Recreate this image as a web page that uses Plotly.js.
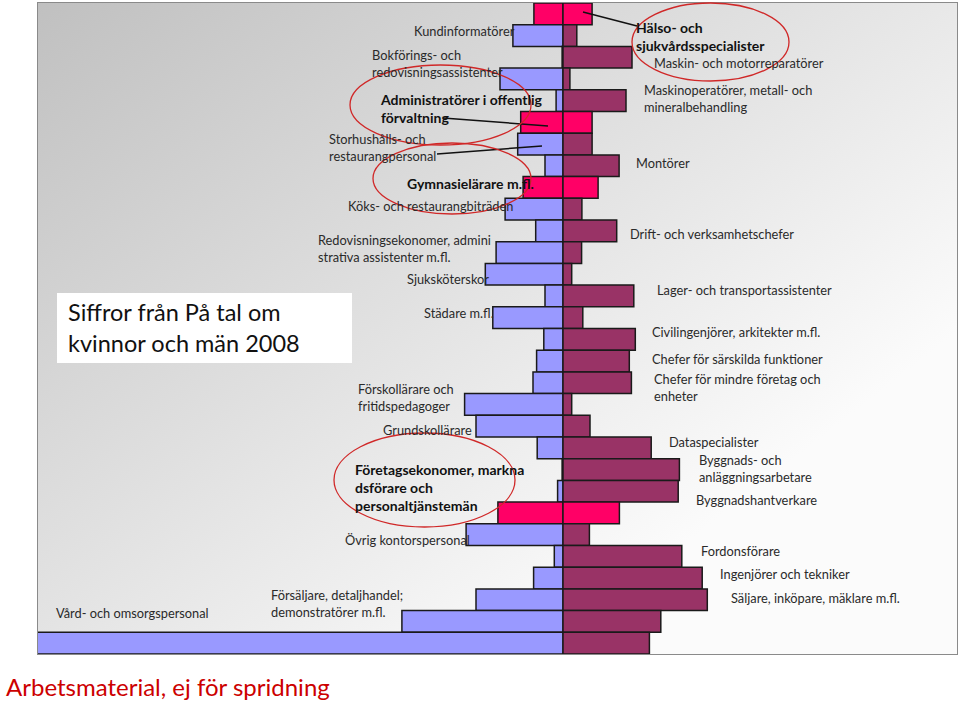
<!DOCTYPE html>
<html>
<head>
<meta charset="utf-8">
<script src="https://cdn.plot.ly/plotly-3.0.1.min.js"></script>
<style>
  html, body { margin: 0; padding: 0; background: #ffffff; }
  #chart { width: 960px; height: 701px; }
</style>
</head>
<body>
<div id="chart"></div>
<script>
// ---- DATA (rows listed top to bottom, values in thousands, estimated) ----
const occupations = [
  "Hälso- och<br>sjukvårdsspecialister",
  "Kundinformatörer",
  "Maskin- och motorreparatörer",
  "Bokförings- och<br>redovisningsassistenter",
  "Maskinoperatörer, metall- och<br>mineralbehandling",
  "Administratörer i offentlig<br>förvaltning",
  "Storhushålls- och<br>restaurangpersonal",
  "Montörer",
  "Gymnasielärare m.fl.",
  "Köks- och restaurangbiträden",
  "Drift- och verksamhetschefer",
  "Redovisningsekonomer, admini<br>strativa assistenter m.fl.",
  "Sjuksköterskor",
  "Lager- och transportassistenter",
  "Städare m.fl.",
  "Civilingenjörer, arkitekter m.fl.",
  "Chefer för särskilda funktioner",
  "Chefer för mindre företag och<br>enheter",
  "Förskollärare och<br>fritidspedagoger",
  "Grundskollärare",
  "Dataspecialister",
  "Byggnads- och<br>anläggningsarbetare",
  "Byggnadshantverkare",
  "Företagsekonomer, markna<br>dsförare och<br>personaltjänstemän",
  "Övrig kontorspersonal",
  "Fordonsförare",
  "Ingenjörer och tekniker",
  "Säljare, inköpare, mäklare m.fl.",
  "Försäljare, detaljhandel;<br>demonstratörer m.fl.",
  "Vård- och omsorgspersonal"
];
const women = [9.7, 16.7, 0.3, 21.0, 2.3, 14.1, 15.1, 6.0, 13.3, 19.3,
               9.1, 22.3, 25.9, 6.0, 23.4, 6.4, 8.8, 10.0, 32.8, 29.0,
               8.6, 0.3, 1.8, 21.7, 32.3, 2.9, 9.8, 29.0, 53.7, 180.0];
const men   = [9.7, 4.6, 23.0, 2.3, 21.0, 9.7, 9.7, 18.7, 11.7, 6.3,
               17.9, 6.2, 2.9, 23.6, 6.6, 24.1, 22.1, 22.8, 2.9, 9.0,
               29.4, 38.8, 38.4, 18.8, 8.8, 39.6, 46.4, 48.1, 32.6, 28.8];
const highlighted = [true, false, false, false, false, true, false, false, true, false,
                     false, false, false, false, false, false, false, false, false, false,
                     false, false, false, true, false, false, false, false, false, false];
const boxText = "Siffror från På tal om<br>kvinnor och män 2008";
const footerText = "Arbetsmaterial, ej för spridning";

// ---- STYLE ----
const WOMEN_COLOR = "#9999ff", MEN_COLOR = "#993366", HL_COLOR = "#ff0066";
const FONT = "Lato, 'Open Sans', sans-serif";
const TXT = "#2a2a2a";

// plot area in pixels
const L = 38, T = 3, W = 919, H = 651;
const px = v => (v - L) / W;
const py = v => 1 - (v - T) / H;

// background gradient image
const cv = document.createElement("canvas");
cv.width = W; cv.height = H;
const ctx = cv.getContext("2d");
const g = ctx.createLinearGradient(0, 0, W * 0.55, H);
g.addColorStop(0, "#c0c0c0");
g.addColorStop(1, "#fbfbfb");
ctx.fillStyle = g; ctx.fillRect(0, 0, W, H);
const bgURL = cv.toDataURL("image/png");

const traces = [
  {
    type: "bar", orientation: "h", name: "Kvinnor",
    y: occupations, x: women.map(v => -v),
    marker: { color: highlighted.map(h => h ? HL_COLOR : WOMEN_COLOR),
              line: { color: "#1a1a1a", width: 1.5 } },
    hoverinfo: "skip"
  },
  {
    type: "bar", orientation: "h", name: "Män",
    y: occupations, x: men,
    marker: { color: highlighted.map(h => h ? HL_COLOR : MEN_COLOR),
              line: { color: "#1a1a1a", width: 1.5 } },
    hoverinfo: "skip"
  }
];

// label placements: [row index, pixel x, pixel y, anchor]
const labelPos = [
  [0, 634, 36, "left"],
  [1, 517, 31, "right"],
  [2, 652, 63.5, "left"],
  [3, 370, 63, "left"],
  [4, 642, 98, "left"],
  [5, 378, 108.5, "left"],
  [6, 327, 148, "left"],
  [7, 634, 163, "left"],
  [8, 405, 183, "left"],
  [9, 346, 206, "left"],
  [10, 628, 234, "left"],
  [11, 316, 249, "left"],
  [12, 405, 279, "left"],
  [13, 655, 290, "left"],
  [14, 422, 313, "left"],
  [15, 650, 332, "left"],
  [16, 650, 359, "left"],
  [17, 652, 387, "left"],
  [18, 356, 397, "left"],
  [19, 381, 430, "left"],
  [20, 667, 442, "left"],
  [21, 697, 468, "left"],
  [22, 694, 500, "left"],
  [23, 353, 487, "left"],
  [24, 343, 540, "left"],
  [25, 699, 551, "left"],
  [26, 718, 574, "left"],
  [27, 729, 598, "left"],
  [28, 269, 603, "left"],
  [29, 54, 613, "left"]
];

const annotations = labelPos.map(([i, x, y, a]) => ({
  xref: "paper", yref: "paper", x: px(x), y: py(y),
  xanchor: a, yanchor: "middle", align: "left", showarrow: false,
  text: occupations[i],
  font: highlighted[i]
    ? { family: FONT, size: 14, color: "#111111", weight: 700 }
    : { family: FONT, size: 12.8, color: TXT }
}));

annotations.push({
  xref: "paper", yref: "paper", x: px(66), y: py(327.5),
  xanchor: "left", yanchor: "middle", align: "left", showarrow: false,
  text: boxText, font: { family: FONT, size: 23.5, color: "#111111" }
});
annotations.push({
  xref: "paper", yref: "paper", x: px(4), y: py(686),
  xanchor: "left", yanchor: "middle", showarrow: false,
  text: footerText, font: { family: FONT, size: 24, color: "#cc0000" }
});

const ell = (x0, x1, y0, y1) => ({
  type: "circle", xref: "paper", yref: "paper", layer: "above",
  x0: px(x0), x1: px(x1), y0: py(y1), y1: py(y0),
  line: { color: "#d02828", width: 1.3 }
});
const seg = (x0, y0, x1, y1) => ({
  type: "line", xref: "paper", yref: "paper", layer: "above",
  x0: px(x0), y0: py(y0), x1: px(x1), y1: py(y1),
  line: { color: "#111111", width: 1.5 }
});

const shapes = [
  { type: "rect", xref: "paper", yref: "paper", layer: "above",
    x0: px(57), x1: px(352), y0: py(363), y1: py(293),
    fillcolor: "#ffffff", line: { width: 0 } },
  seg(583, 12, 637, 26),
  seg(443, 118, 548, 126),
  seg(437, 154, 542, 146),
  ell(632, 789, 3, 81),
  ell(350, 531, 65, 145),
  ell(373, 531, 143, 214),
  ell(334, 515, 433, 527)
];

const layout = {
  width: 960, height: 701,
  margin: { l: L, r: 960 - L - W, t: T, b: 701 - T - H, pad: 0 },
  paper_bgcolor: "#ffffff",
  plot_bgcolor: "rgba(0,0,0,0)",
  barmode: "relative", bargap: 0,
  showlegend: false,
  font: { family: FONT, color: TXT },
  xaxis: {
    range: [-(563 - L) / 3, (L + W - 563) / 3],
    showgrid: false, showticklabels: false, ticks: "",
    zeroline: true, zerolinecolor: "#111111", zerolinewidth: 2,
    showline: true, linecolor: "#8a8a8a", linewidth: 1, mirror: true,
    fixedrange: true
  },
  yaxis: {
    type: "category", range: [occupations.length - 0.5, -0.5],
    showgrid: false, showticklabels: false, ticks: "",
    showline: true, linecolor: "#8a8a8a", linewidth: 1, mirror: true,
    fixedrange: true
  },
  images: [{
    source: bgURL, xref: "paper", yref: "paper",
    x: 0, y: 1, sizex: 1, sizey: 1, sizing: "stretch",
    xanchor: "left", yanchor: "top", layer: "below"
  }],
  shapes: shapes,
  annotations: annotations
};

Plotly.newPlot("chart", traces, layout, { staticPlot: true, displayModeBar: false });
</script>
</body>
</html>
